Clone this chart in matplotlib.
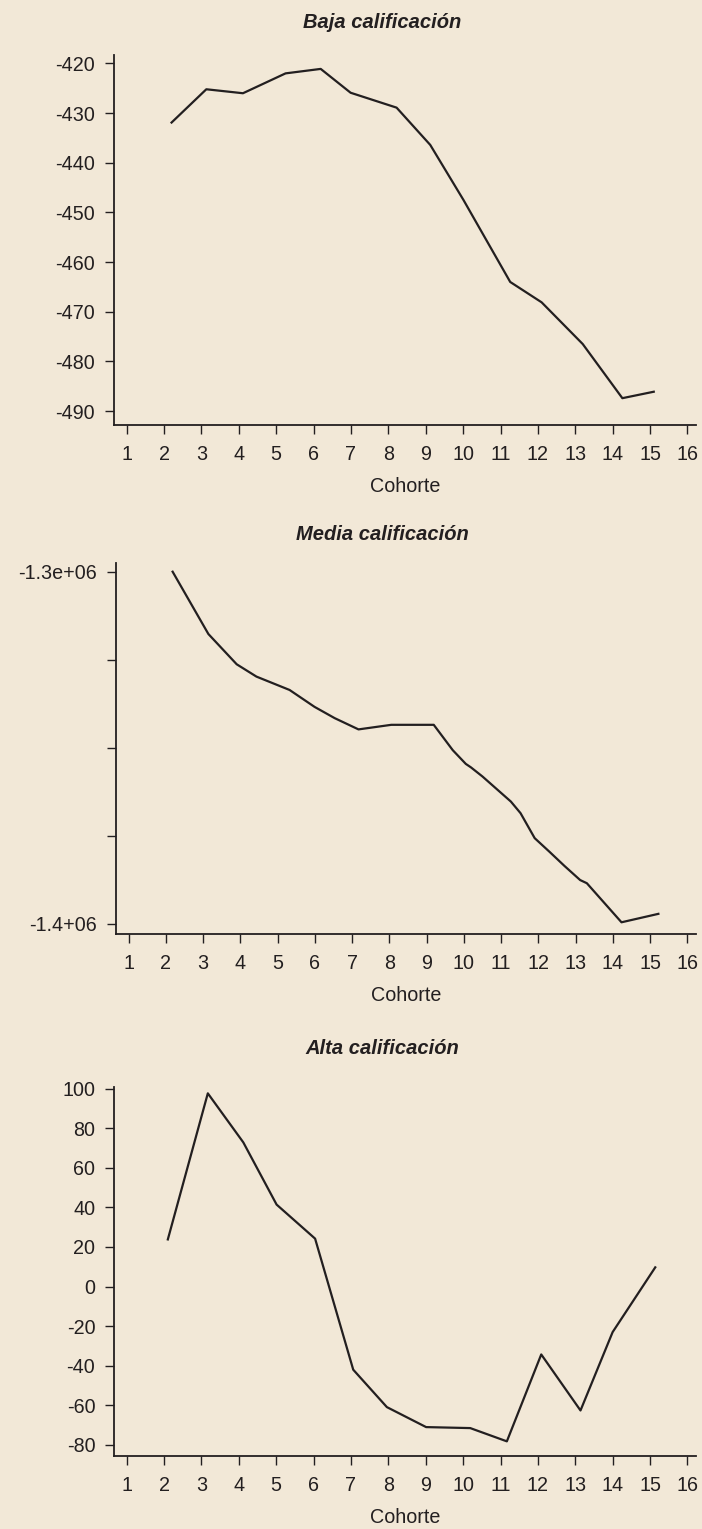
import matplotlib
matplotlib.use("Agg")
import matplotlib.pyplot as plt

### Data
cohorts = list(range(1, 17))

baja_x = [2.20, 3.13, 4.11, 5.25, 6.19, 6.99, 8.22, 9.12, 10.01, 11.26, 12.1, 13.2, 14.26, 15.10]
baja_y = [-431.9, -425.2, -426.0, -422.0, -421.1, -425.9, -428.9, -436.4, -447.5, -464.0, -468.1, -476.5, -487.4, -486.1]

media_x = [2.18, 3.14, 3.90, 4.43, 5.32, 5.99, 6.53, 7.17, 8.05, 9.19, 9.70, 10.05, 10.19, 10.50,
           11.26, 11.52, 11.9, 12.3, 12.7, 13.12, 13.30, 14.23, 15.22]
media_y = [-1300000, -1317700, -1326300, -1329800, -1333600, -1338400, -1341600, -1344800, -1343500,
           -1343500, -1350700, -1354600, -1355600, -1358200, -1365300, -1368600, -1375700, -1379600,
           -1383600, -1387600, -1388500, -1399600, -1397200]

alta_x = [2.10, 3.17, 4.12, 5.01, 6.04, 7.06, 7.96, 9.01, 10.19, 11.17, 12.09, 13.14, 14.0, 15.14]
alta_y = [23.8, 97.6, 72.8, 41.4, 24.2, -42.0, -60.9, -71.0, -71.5, -78.2, -34.3, -62.6, -23.0, 9.7]

baja_ticks = [-420, -430, -440, -450, -460, -470, -480, -490]
media_ticks = [-1300000, -1325000, -1350000, -1375000, -1400000]
media_labels = ["-1.3e+06", "", "", "", "-1.4+06"]
alta_ticks = [100, 80, 60, 40, 20, 0, -20, -40, -60, -80]

titles = ["Baja calificación", "Media calificación", "Alta calificación"]
xlabel = "Cohorte"

#######################################
###     Styling
#######################################
BG = "#F2E8D7"
INK = "#231F20"
W, H = 702, 1529
plt.rcParams["font.family"] = ["Liberation Sans", "DejaVu Sans"]
plt.rcParams["axes.unicode_minus"] = False

fig = plt.figure(figsize=(W / 100, H / 100), dpi=100, facecolor=BG)


def px_axes(left, top, right, bottom):
    # axes box given in pixel coordinates measured from the top-left corner
    return fig.add_axes([left / W, 1 - bottom / H, (right - left) / W, (bottom - top) / H])


def style(ax, ylim, yticks, ylabels=None):
    ax.set_facecolor(BG)
    ax.set_xlim(0.66, 16.23)
    ax.set_ylim(*ylim)
    ax.set_xticks(cohorts)
    ax.set_yticks(yticks)
    if ylabels is not None:
        ax.set_yticklabels(ylabels)
    for s in ["top", "right"]:
        ax.spines[s].set_visible(False)
    for s in ["left", "bottom"]:
        ax.spines[s].set_color(INK)
        ax.spines[s].set_linewidth(1.3)
    ax.tick_params(axis="both", direction="out", length=6.5, width=1.0, color=INK,
                   labelcolor=INK, labelsize=14.2)
    ax.tick_params(axis="x", pad=8)
    ax.tick_params(axis="y", pad=7)
    ax.set_xlabel(xlabel, fontsize=14.2, color=INK, labelpad=9)


ax1 = px_axes(114, 55, 696, 425)
ax1.plot(baja_x, baja_y, color=INK, lw=1.6)
style(ax1, (-492.8, -418.3), baja_ticks)

ax2 = px_axes(116, 563, 696, 934)
ax2.plot(media_x, media_y, color=INK, lw=1.6)
style(ax2, (-1402926, -1297528), media_ticks, media_labels)

ax3 = px_axes(114, 1087, 696, 1456)
ax3.plot(alta_x, alta_y, color=INK, lw=1.6)
style(ax3, (-85.6, 100.8), alta_ticks)

for t, yy in zip(titles, [23, 535, 1048]):
    fig.text(382 / W, 1 - yy / H, t, ha="center", va="center", fontsize=14.5,
             fontweight="bold", fontstyle="italic", color=INK)

fig.savefig("out.png", dpi=100, facecolor=BG)
